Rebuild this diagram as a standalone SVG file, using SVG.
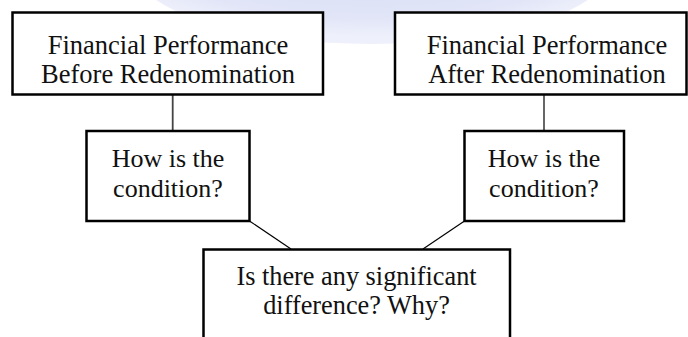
<svg xmlns="http://www.w3.org/2000/svg" width="688" height="337" viewBox="0 0 688 337">
  <defs>
    <radialGradient id="glow" cx="0.5" cy="0.35" r="0.6">
      <stop offset="0" stop-color="#d6dbf3"/>
      <stop offset="0.8" stop-color="#e1e5f7"/>
      <stop offset="1" stop-color="#eef0fb"/>
    </radialGradient>
  </defs>
  <style>
    .box { fill: #ffffff; stroke: #000000; stroke-width: 2.5; }
    .lbl { font-family: "Liberation Serif", "Times New Roman", serif; font-size: 26px; fill: #111111; text-anchor: middle; }
    .big { font-size: 26.5px; }
    .conn { stroke: #000000; stroke-width: 1.2; fill: none; }
  </style>
  <rect x="0" y="0" width="688" height="337" fill="#ffffff"/>
  <ellipse cx="372" cy="-32" rx="238" ry="76" fill="url(#glow)"/>

  <g id="connectors">
    <line class="conn" x1="172.7" y1="94" x2="172.7" y2="131" style="stroke:#444444;stroke-width:1.8"/>
    <line class="conn" x1="544" y1="94" x2="544" y2="131"/>
    <line class="conn" x1="249.5" y1="221" x2="291" y2="249"/>
    <line class="conn" x1="464.5" y1="221" x2="423" y2="249"/>
  </g>

  <g id="before">
    <rect class="box" x="12.5" y="12.5" width="310.5" height="82"/>
    <text class="lbl big" x="168" y="54">Financial Performance</text>
    <text class="lbl big" x="168" y="83">Before Redenomination</text>
  </g>

  <g id="after">
    <rect class="box" x="395" y="12.5" width="291.5" height="82"/>
    <text class="lbl big" x="547" y="54">Financial Performance</text>
    <text class="lbl big" x="547" y="83">After Redenomination</text>
  </g>

  <g id="condition-left">
    <rect class="box" x="86.5" y="131" width="163" height="90"/>
    <text class="lbl" x="168" y="167">How is the</text>
    <text class="lbl" x="168" y="197">condition?</text>
  </g>

  <g id="condition-right">
    <rect class="box" x="464.5" y="131" width="159.5" height="90"/>
    <text class="lbl" x="544" y="167">How is the</text>
    <text class="lbl" x="544" y="197">condition?</text>
  </g>

  <g id="difference">
    <rect class="box" x="203.5" y="249.5" width="306.5" height="110"/>
    <text class="lbl" x="356.5" y="285" style="font-size:26.3px">Is there any significant</text>
    <text class="lbl" x="356.5" y="314" style="font-size:26.3px">difference? Why?</text>
  </g>
</svg>
